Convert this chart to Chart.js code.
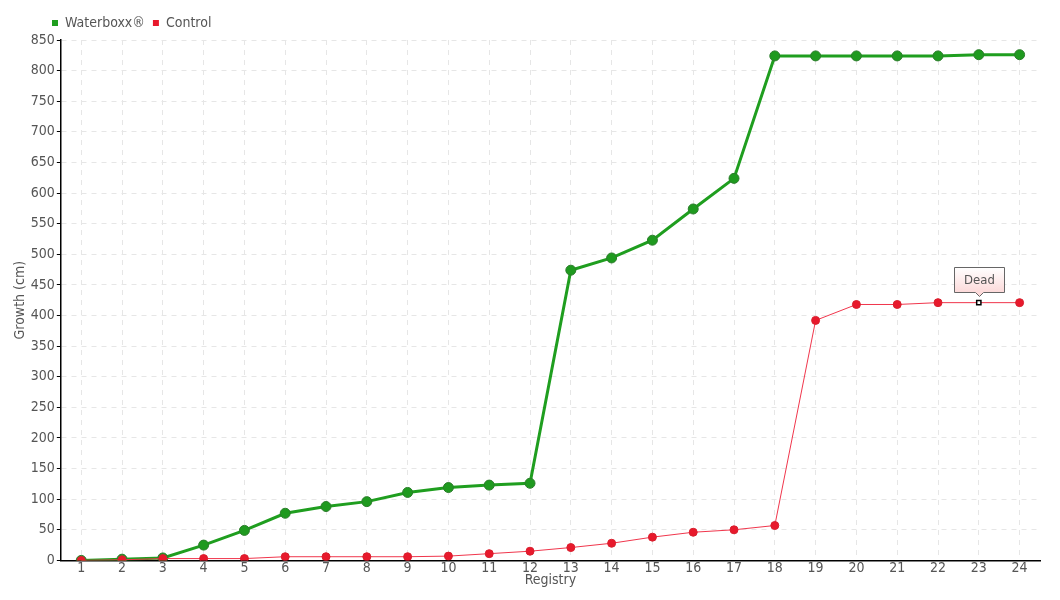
<!DOCTYPE html>
<html>
<head>
<meta charset="utf-8">
<script src="https://cdn.jsdelivr.net/npm/chart.js@4"></script>
<style>
  html, body { margin: 0; padding: 0; background: #fff; }
  #wrap { width: 1060px; height: 600px; }
</style>
</head>
<body>
<div id="wrap"><canvas id="growthchart"></canvas></div>
<script>
const registry = ['1','2','3','4','5','6','7','8','9','10','11','12','13','14','15','16','17','18','19','20','21','22','23','24'];
const waterboxx = [0, 2, 4, 25, 49, 77, 88, 96, 111, 119, 123, 126, 474, 494, 523, 574, 624, 824, 824, 824, 824, 824, 826, 826];
const control = [0, 1, 3, 3, 3, 6, 6, 6, 6, 7, 11, 15, 21, 28, 38, 46, 50, 57, 392, 418, 418, 421, 421, 421];
const deadIndex = 22;
const deadLabel = 'Dead';

const fontFamily = "'DejaVu Sans Condensed', 'Liberation Sans Narrow', sans-serif";
const textColor = '#555';

// little callout box above the dead point
const deadNote = {
    id: 'deadNote',
    afterLayout(chart) {
        // legend sits over the plot, not at the canvas edge
        const lg = chart.legend;
        if (lg) { lg.left += 32; lg.right += 32; }
    },
    afterDatasetsDraw(chart) {
        const meta = chart.getDatasetMeta(1);
        const pt = meta.data[deadIndex];
        if (!pt) return;
        const ctx = chart.ctx;
        const x = Math.round(pt.x) + 0.5, y = Math.round(pt.y) - 8.5;
        const w = 50, h = 25;
        const left = x - w / 2, top = y - h - 2;
        ctx.save();
        const grad = ctx.createLinearGradient(0, top, 0, top + h);
        grad.addColorStop(0, '#ffffff');
        grad.addColorStop(1, '#fcd9d9');
        ctx.beginPath();
        ctx.moveTo(left, top);
        ctx.lineTo(left + w, top);
        ctx.lineTo(left + w, top + h);
        ctx.lineTo(x + 4, top + h);
        ctx.lineTo(x, y + 2);
        ctx.lineTo(x - 4, top + h);
        ctx.lineTo(left, top + h);
        ctx.closePath();
        ctx.fillStyle = grad;
        ctx.fill();
        ctx.strokeStyle = '#666';
        ctx.lineWidth = 1;
        ctx.stroke();
        ctx.fillStyle = textColor;
        ctx.font = '13px ' + fontFamily;
        ctx.textAlign = 'center';
        ctx.textBaseline = 'middle';
        ctx.fillText(deadLabel, x, top + h / 2 + 1);
        ctx.restore();
    }
};

const controlStyle = control.map((v, i) => i === deadIndex ? 'rect' : 'circle');

const growthdata = {
    labels: registry,
    datasets: [{
        label: 'Waterboxx®',
        data: waterboxx,
        borderColor: '#1f9e1f',
        backgroundColor: '#1f9a1f',
        pointBorderColor: '#2b7d2b',
        pointBorderWidth: 1,
        borderWidth: 3,
        pointRadius: 5,
        tension: 0,
        order: 1
    }, {
        label: 'Control',
        data: control,
        borderColor: '#f0364c',
        backgroundColor: control.map((v, i) => i === deadIndex ? '#ffffff' : '#e8192c'),
        pointBorderColor: control.map((v, i) => i === deadIndex ? '#000000' : '#d8202e'),
        pointBorderWidth: control.map((v, i) => i === deadIndex ? 1.5 : 1),
        pointStyle: controlStyle,
        pointRadius: control.map((v, i) => i === deadIndex ? 3 : 4),
        borderWidth: 1,
        tension: 0,
        order: 0
    }]
};

const growthconfig = {
    type: 'line',
    data: growthdata,
    options: {
        responsive: true,
        maintainAspectRatio: false,
        animation: false,
        layout: { padding: { left: 12, right: 20, top: 8, bottom: 11 } },
        scales: {
            x: {
                offset: true,
                grid: {
                    offset: false,
                    color: '#e6e6e6',
                    tickLength: 0,
                    tickColor: 'rgba(0,0,0,0)'
                },
                border: { color: '#000', width: 1.5, dash: [5, 5] },
                ticks: { color: textColor, font: { family: fontFamily, size: 14 }, padding: 0, maxRotation: 0, autoSkip: false },
                title: { display: true, text: 'Registry', color: textColor, font: { family: fontFamily, size: 14 }, padding: { top: -5, bottom: 0 } }
            },
            y: {
                min: 0,
                max: 850,
                ticks: { stepSize: 50, color: textColor, font: { family: fontFamily, size: 14 }, padding: 2 },
                grid: { color: '#e6e6e6', tickLength: 4, tickColor: '#000' },
                border: { color: '#000', width: 1.5, dash: [5, 5] },
                title: { display: true, text: 'Growth (cm)', color: textColor, font: { family: fontFamily, size: 14 }, padding: 0 }
            }
        },
        plugins: {
            legend: {
                align: 'start',
                labels: {
                    color: textColor,
                    font: { family: fontFamily, size: 14 },
                    boxWidth: 6,
                    boxHeight: 6,
                    padding: 8,
                    sort: (a, b) => a.datasetIndex - b.datasetIndex,
                    generateLabels(chart) {
                        return chart.data.datasets.map((ds, i) => ({
                            text: ds.label,
                            fillStyle: i === 0 ? '#1f9e1f' : '#e8192c',
                            strokeStyle: i === 0 ? '#1f9e1f' : '#e8192c',
                            lineWidth: 0,
                            fontColor: textColor,
                            datasetIndex: i
                        }));
                    }
                }
            },
            tooltip: { enabled: false }
        }
    },
    plugins: [deadNote]
};

const growthchart = new Chart(
    document.getElementById('growthchart'),
    growthconfig
);
</script>
</body>
</html>
